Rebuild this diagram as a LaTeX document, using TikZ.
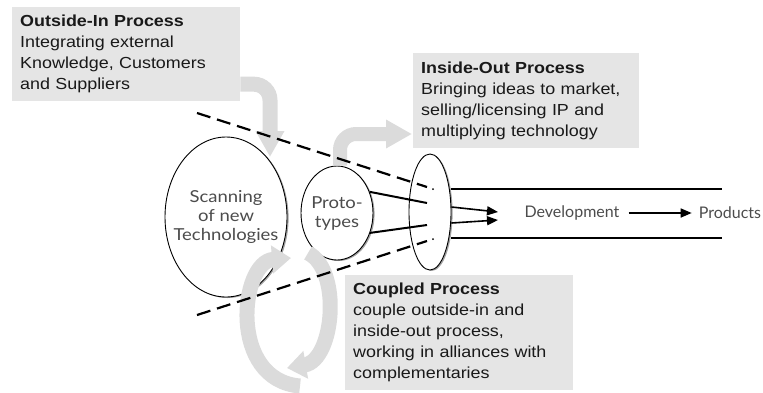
\documentclass[tikz,border=0pt]{standalone}
\usepackage{fontspec}
\setmainfont{Liberation Sans}[FakeStretch=1.12]
\newfontfamily\gillfont{Lato}
\newfontfamily\gillwide{Lato}[FakeStretch=1.12]
\usetikzlibrary{shapes.geometric,arrows.meta,shadows}
\definecolor{boxgray}{gray}{0.9}
\definecolor{bandgray}{gray}{0.86}
\definecolor{txtgray}{gray}{0.3}

\begin{document}
\begin{tikzpicture}[x=1pt,y=-1pt,
	procbox/.style={ fill=boxgray, anchor=north west, align=left, inner xsep=8pt, inner ysep=0pt, text=black!90, font=\fontsize{16}{21}\selectfont },
	blob/.style={ ellipse, draw, line width=0.9pt, fill=white, inner sep=0pt, drop shadow={shadow xshift=1.6pt, shadow yshift=-1pt, fill=black!60, opacity=0.6} },
	blobtext/.style={ inner sep=0pt, align=center, text=txtgray, font=\gillwide\fontsize{16.5}{19}\selectfont },
	tag/.style={ inner sep=0pt, text=txtgray, font=\gillfont\fontsize{16}{19}\selectfont },
	blockarrow/.style={ bandgray, rounded corners=16pt, -{Triangle[width=27pt,length=26pt]} },
	loopband/.style={ bandgray, line width=15pt, -{Triangle[width=27pt,length=19pt]} },
	funnel/.style={ line width=2.2pt, dash pattern=on 14pt off 7pt },
	spoke/.style={ line width=2pt },
	flow/.style={ line width=1.6pt, -{Triangle[width=9pt,length=11pt]} }
]
\useasboundingbox (0,0) rectangle (763,392);

% the three processes
\node[procbox, text width=212pt, minimum height=94pt] (outin) at (12,7)
  {\textbf{Outside-In Process}\\Integrating external\\Knowledge, Customers\\and Suppliers};
\node[procbox, text width=210pt, minimum height=95pt] (inout) at (413,53)
  {\textbf{Inside-Out Process}\\Bringing ideas to market,\\selling/licensing IP and\\multiplying technology};
\node[procbox, text width=212pt, minimum height=115pt] (coupled) at (345,275)
  {\textbf{Coupled Process}\\couple outside-in and\\inside-out process,\\working in alliances with\\complementaries};

% funnel
\node[blob, minimum width=122pt, minimum height=160pt,
  label={[blobtext]center:{Scanning\\of new\\Technologies}}] (scan) at (226,217) {};
\node[blob, minimum width=72pt, minimum height=94pt,
  label={[blobtext]center:{Proto-\\types}}] (proto) at (337,213) {};
\node[blob, minimum width=42pt, minimum height=116pt] (gate) at (430,212) {};

\coordinate (oiTip) at (270,157);
\coordinate (ioTip) at (412,134);
\draw[blockarrow, line width=15pt] ([yshift=-30pt]outin.east) -| (oiTip);
\draw[blockarrow, line width=14pt] ([xshift=3pt]proto.north) |- (ioTip);

\draw[loopband] (300,386) .. controls (228,380) and (240,262) .. (291,258);
\draw[loopband] (308,253) .. controls (342,270) and (334,360) .. (287,368);

\coordinate (fnA1) at (197,113);
\coordinate (fnA2) at (427,187);
\coordinate (fnB1) at (197,315);
\coordinate (fnB2) at (427,241);
\draw[funnel] (fnA1) -- (fnA2);
\draw[funnel] (fnB1) -- (fnB2);
\fill (433,189) circle (1);
\fill (433,239) circle (1);

\coordinate (inA) at (427,203);
\coordinate (inB) at (427,225);
\draw[spoke] (proto.33) -- (inA);
\draw[spoke] (proto.-31) -- (inB);

% development channel
\coordinate (wallA) at (722,189);
\coordinate (wallB) at (722,238);
\draw[spoke] (wallA -| gate.east) -- (wallA);
\draw[spoke] (wallB -| gate.east) -- (wallB);

\node[tag] (dev) at (572,213) {Development};
\node[tag] (prod) at (730,213) {Products};
\coordinate (tipA) at (498,212);
\coordinate (tipB) at (498,220);
\draw[flow] ([yshift=5pt]gate.east) -- (tipA);
\draw[flow] ([yshift=-11pt]gate.east) -- (tipB);
\draw[flow, shorten <=9pt, shorten >=7pt] (dev) -- (prod);

\end{tikzpicture}
\end{document}
